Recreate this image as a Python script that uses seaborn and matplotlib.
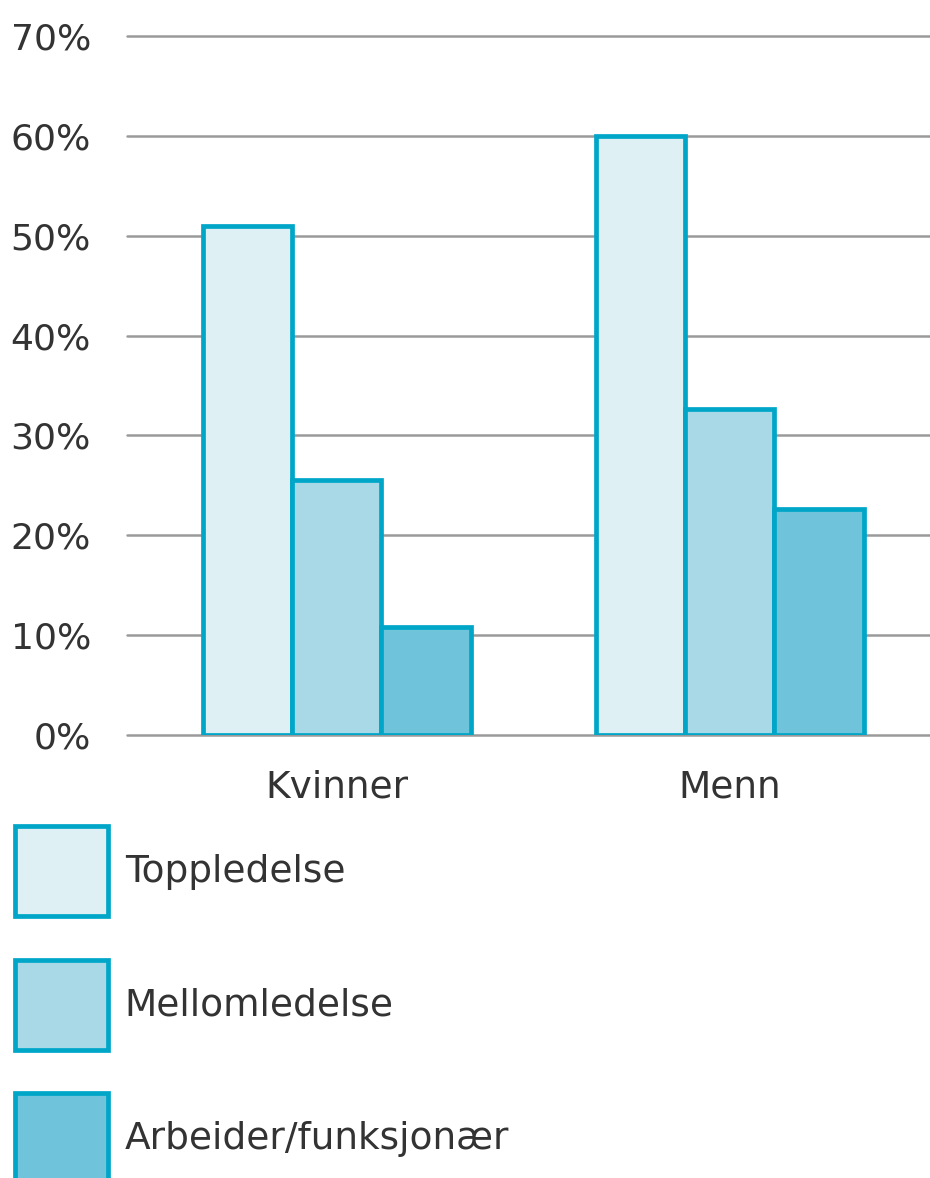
import matplotlib
matplotlib.use("Agg")
import matplotlib.pyplot as plt
from matplotlib.patches import Patch
import seaborn as sns
import pandas as pd

groups = ["Kvinner", "Menn"]
levels = ["Toppledelse", "Mellomledelse", "Arbeider/funksjonær"]
kvinner = [51.0, 25.5, 10.8]
menn = [60.0, 32.6, 22.6]
yticks = [0, 10, 20, 30, 40, 50, 60, 70]
ytick_labels = ["0%", "10%", "20%", "30%", "40%", "50%", "60%", "70%"]

fills = ["#DFF0F5", "#A9D8E6", "#6FC4DC"]
edge = "#00A6C8"

rows = []
for g, vals in zip(groups, [kvinner, menn]):
    for lvl, v in zip(levels, vals):
        rows.append({"gruppe": g, "niva": lvl, "andel": v})
df = pd.DataFrame(rows)

sns.set_theme(style="white")
plt.rcParams["font.family"] = ["DejaVu Sans"]

FS = 27

fig = plt.figure(figsize=(9.3, 11.78), dpi=100)
ax = fig.add_axes([127/930, 1-735/1178, 1-127/930, (735-36)/1178])

sns.barplot(data=df, x="gruppe", y="andel", hue="niva", order=groups,
            hue_order=levels, palette=fills, width=0.68, edgecolor=edge,
            linewidth=3.4, saturation=1, legend=False, ax=ax, zorder=3)

ax.set_ylim(0, 70)
ax.set_xlim(-0.534, 1.509)
ax.set_yticks(yticks)
ax.set_yticklabels(ytick_labels)
ax.yaxis.grid(True, color="#9A9A9A", linewidth=1.8, zorder=0)
for gl in ax.get_ygridlines():
    gl.set_clip_on(False)
ax.set_axisbelow(True)
for s in ax.spines.values():
    s.set_visible(False)
ax.set_xlabel("")
ax.set_ylabel("")
ax.tick_params(axis="y", length=0, pad=26, labelsize=26, labelcolor="#333333")
ax.tick_params(axis="x", length=0, pad=25, labelsize=FS, labelcolor="#333333")

handles = [Patch(facecolor=f, edgecolor=edge, linewidth=3.4) for f in fills]
fig.legend(handles, levels, loc="upper left", bbox_to_anchor=(15/930, 1-826/1178),
           frameon=False, borderpad=0, borderaxespad=0, handlelength=2.48,
           handleheight=3.31, labelspacing=1.17, handletextpad=0.45,
           fontsize=FS, labelcolor="#333333")

fig.savefig("out.png", dpi=100)
